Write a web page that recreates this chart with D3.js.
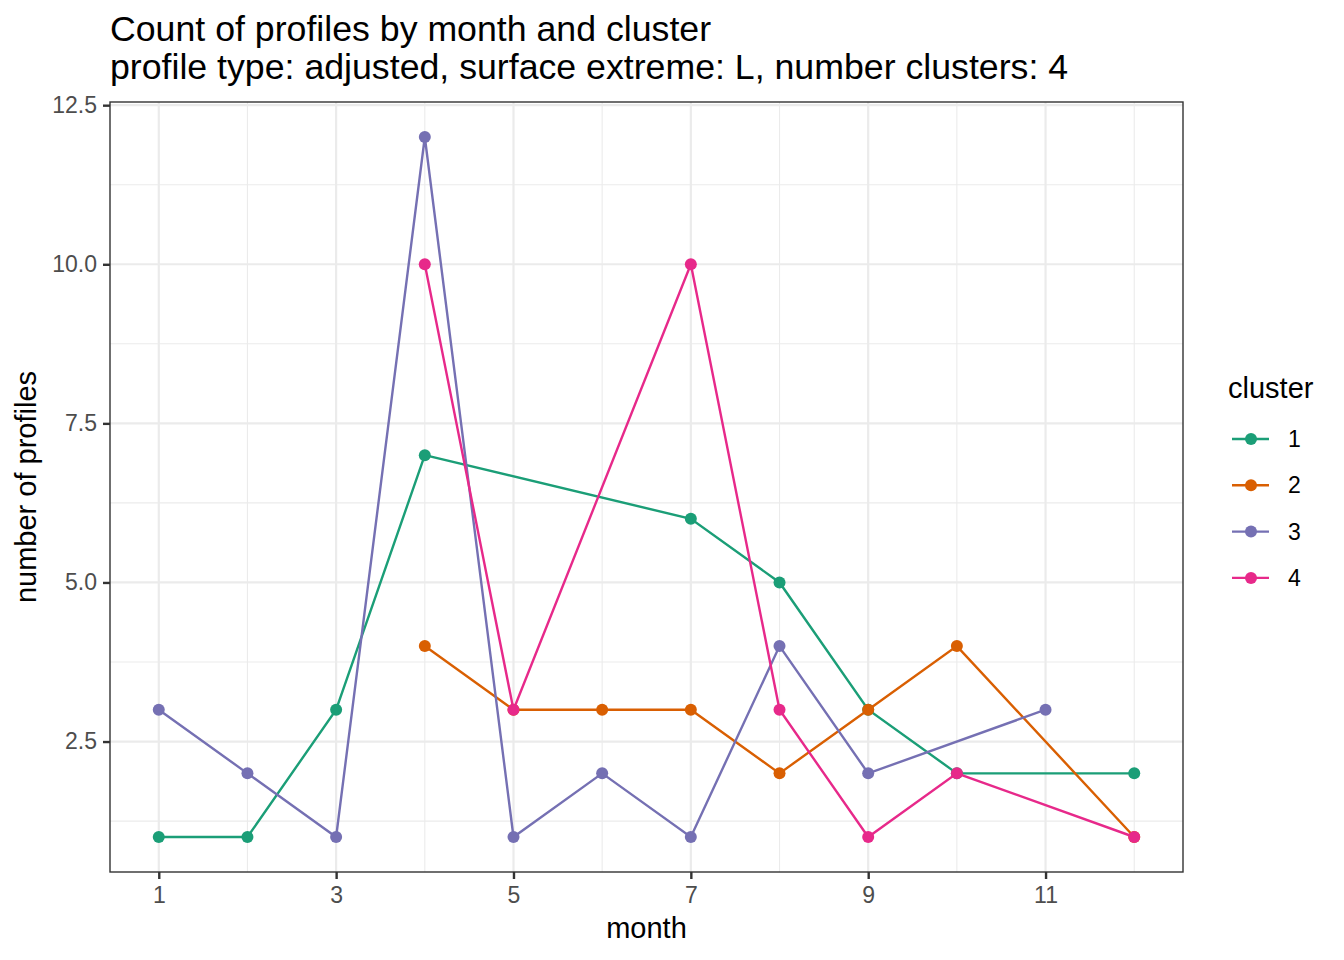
<!DOCTYPE html>
<html>
<head>
<meta charset="utf-8">
<script src="https://cdn.jsdelivr.net/npm/d3@7"></script>
<style>
  body { margin: 0; background: #fff; }
  svg text { font-family: "Liberation Sans", Arial, sans-serif; }
</style>
</head>
<body>
<svg id="chart"></svg>
<script>
// data
var clusters = ["1", "2", "3", "4"];
var colors = ["#1b9e77", "#d95f02", "#7570b3", "#e7298a"];
var months1 = [1, 2, 3, 4, 7, 8, 9, 10, 12];
var counts1 = [1, 1, 3, 7, 6, 5, 3, 2, 2];
var months2 = [4, 5, 6, 7, 8, 9, 10, 12];
var counts2 = [4, 3, 3, 3, 2, 3, 4, 1];
var months3 = [1, 2, 3, 4, 5, 6, 7, 8, 9, 11];
var counts3 = [3, 2, 1, 12, 1, 2, 1, 4, 2, 3];
var months4 = [4, 5, 7, 8, 9, 10, 12];
var counts4 = [10, 3, 10, 3, 1, 2, 1];
var xTicks = [1, 3, 5, 7, 9, 11];
var xMinor = [2, 4, 6, 8, 10, 12];
var yTicks = [2.5, 5.0, 7.5, 10.0, 12.5];
var yMinor = [1.25, 3.75, 6.25, 8.75, 11.25];

var series = [
  {key: clusters[0], months: months1, counts: counts1},
  {key: clusters[1], months: months2, counts: counts2},
  {key: clusters[2], months: months3, counts: counts3},
  {key: clusters[3], months: months4, counts: counts4}
];

var W = 1344, H = 960;
var panel = {left: 110, right: 1183, top: 102, bottom: 872};

var svg = d3.select("#chart").attr("width", W).attr("height", H);

var x = d3.scaleLinear().domain([0.45, 12.55]).range([panel.left, panel.right]);
var y = d3.scaleLinear().domain([0.45, 12.55]).range([panel.bottom, panel.top]);
var color = d3.scaleOrdinal().domain(clusters).range(colors);

// grid
var grid = svg.append("g");
grid.selectAll(".ymin").data(yMinor).enter().append("line")
  .attr("x1", panel.left).attr("x2", panel.right)
  .attr("y1", function(d){ return y(d); }).attr("y2", function(d){ return y(d); })
  .attr("stroke", "#ebebeb").attr("stroke-width", 1.1);
grid.selectAll(".xmin").data(xMinor).enter().append("line")
  .attr("y1", panel.top).attr("y2", panel.bottom)
  .attr("x1", function(d){ return x(d); }).attr("x2", function(d){ return x(d); })
  .attr("stroke", "#ebebeb").attr("stroke-width", 1.1);
grid.selectAll(".ymaj").data(yTicks).enter().append("line")
  .attr("x1", panel.left).attr("x2", panel.right)
  .attr("y1", function(d){ return y(d); }).attr("y2", function(d){ return y(d); })
  .attr("stroke", "#ebebeb").attr("stroke-width", 2.2);
grid.selectAll(".xmaj").data(xTicks).enter().append("line")
  .attr("y1", panel.top).attr("y2", panel.bottom)
  .attr("x1", function(d){ return x(d); }).attr("x2", function(d){ return x(d); })
  .attr("stroke", "#ebebeb").attr("stroke-width", 2.2);

// lines and points
var line = d3.line()
  .x(function(d){ return x(d[0]); })
  .y(function(d){ return y(d[1]); });

series.forEach(function(s){
  var pts = s.months.map(function(m, i){ return [m, s.counts[i]]; });
  svg.append("path")
    .datum(pts)
    .attr("d", line)
    .attr("fill", "none")
    .attr("stroke", color(s.key))
    .attr("stroke-width", 2.4);
  svg.append("g").selectAll("circle")
    .data(pts).enter().append("circle")
    .attr("cx", function(d){ return x(d[0]); })
    .attr("cy", function(d){ return y(d[1]); })
    .attr("r", 6)
    .attr("fill", color(s.key));
});

// panel border
svg.append("rect")
  .attr("x", panel.left).attr("y", panel.top)
  .attr("width", panel.right - panel.left).attr("height", panel.bottom - panel.top)
  .attr("fill", "none").attr("stroke", "#333333").attr("stroke-width", 1.4);

// axes
var xAxis = svg.append("g")
  .attr("transform", "translate(0," + panel.bottom + ")")
  .call(d3.axisBottom(x).tickValues(xTicks).tickSize(7).tickPadding(8).tickFormat(d3.format("d")));
var yAxis = svg.append("g")
  .attr("transform", "translate(" + panel.left + ",0)")
  .call(d3.axisLeft(y).tickValues(yTicks).tickSize(7).tickPadding(6).tickFormat(d3.format(".1f")));
[xAxis, yAxis].forEach(function(a){
  a.select(".domain").remove();
  a.selectAll(".tick line").attr("stroke", "#333333").attr("stroke-width", 2.4);
  a.selectAll(".tick text").attr("fill", "#4d4d4d")
    .style("font-size", "23px").style("font-family", "Liberation Sans, Arial, sans-serif");
});

// axis titles
svg.append("text")
  .attr("x", (panel.left + panel.right) / 2).attr("y", 938)
  .attr("text-anchor", "middle").style("font-size", "29px")
  .text("month");
svg.append("text")
  .attr("transform", "translate(36," + ((panel.top + panel.bottom) / 2) + ") rotate(-90)")
  .attr("text-anchor", "middle").style("font-size", "29px")
  .text("number of profiles");

// title
svg.append("text").attr("x", 110).attr("y", 41)
  .style("font-size", "35.7px").text("Count of profiles by month and cluster");
svg.append("text").attr("x", 110).attr("y", 79)
  .style("font-size", "35.7px").text("profile type: adjusted, surface extreme: L, number clusters: 4");

// legend
var legend = svg.append("g");
legend.append("text").attr("x", 1228).attr("y", 398)
  .style("font-size", "29px").text("cluster");
var items = legend.selectAll(".item").data(clusters).enter().append("g")
  .attr("transform", function(d, i){ return "translate(0," + (439 + i * 46.3) + ")"; });
items.append("line")
  .attr("x1", 1232).attr("x2", 1269).attr("y1", 0).attr("y2", 0)
  .attr("stroke", function(d){ return color(d); }).attr("stroke-width", 2.4);
items.append("circle")
  .attr("cx", 1251).attr("cy", 0).attr("r", 6)
  .attr("fill", function(d){ return color(d); });
items.append("text")
  .attr("x", 1288).attr("y", 8)
  .style("font-size", "23px").text(function(d){ return d; });
</script>
</body>
</html>
